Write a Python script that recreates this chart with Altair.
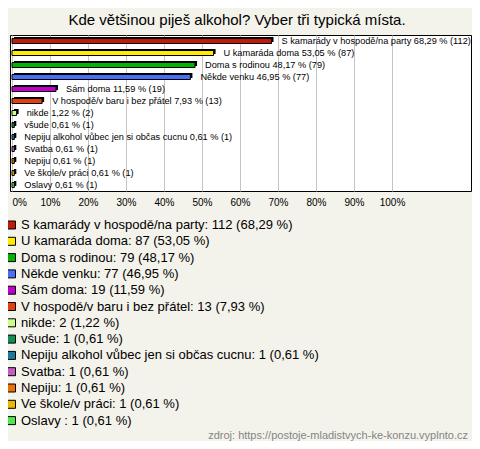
import altair as alt
import pandas as pd

title_text = "Kde většinou piješ alkohol? Vyber tři typická místa."
source_text = "zdroj: https://postoje-mladistvych-ke-konzu.vyplnto.cz"

categories = [
    "S kamarády v hospodě/na party",
    "U kamaráda doma",
    "Doma s rodinou",
    "Někde venku",
    "Sám doma",
    "V hospodě/v baru i bez přátel",
    "nikde",
    "všude",
    "Nepiju alkohol vůbec jen si občas cucnu",
    "Svatba",
    "Nepiju",
    "Ve škole/v práci",
    "Oslavy ",
]
counts = [112, 87, 79, 77, 19, 13, 2, 1, 1, 1, 1, 1, 1]
percents = [68.29, 53.05, 48.17, 46.95, 11.59, 7.93, 1.22, 0.61, 0.61, 0.61, 0.61, 0.61, 0.61]
colors = [
    "#c01a0c", "#ffec00", "#00b400", "#4a6ef5", "#c000cc", "#e2400c", "#ccff88",
    "#109050", "#1f7a99", "#c55cc5", "#ec7004", "#eab800", "#4ce84c",
]
tick_values = [0, 10, 20, 30, 40, 50, 60, 70, 80, 90, 100]


def fmt(p):
    return f"{p:.2f}".replace(".", ",")


df = pd.DataFrame({
    "cat": categories,
    "pct": percents,
    "n": counts,
    "bar_label": [f"{c} {fmt(p)} % ({n})" for c, p, n in zip(categories, percents, counts)],
    "legend_label": [f"{c}: {n} ({fmt(p)} %)" for c, p, n in zip(categories, percents, counts)],
})

FONT = "Liberation Sans"

x_enc = alt.X(
    "pct:Q",
    scale=alt.Scale(domain=[-0.526, 120.79], nice=False, zero=False),
    axis=alt.Axis(
        values=tick_values,
        labelExpr="datum.value + '%'",
        grid=True,
        gridColor="#c4c4c4",
        gridWidth=1,
        domain=False,
        ticks=False,
        labelFontSize=10,
        labelFont=FONT,
        labelColor="black",
        labelPadding=6,
        labelAlign={"condition": {"test": "datum.value == 0", "value": "left"}, "value": "center"},
        title=None,
    ),
)
y_enc = alt.Y(
    "cat:N",
    sort=categories,
    axis=None,
    scale=alt.Scale(paddingInner=0, paddingOuter=0),
)

base = alt.Chart(df)

back = base.mark_bar(size=5, color="black", xOffset=2, x2Offset=2, yOffset=-1.5, y2Offset=-1.5).encode(
    x=x_enc, y=y_enc
)

front = base.mark_bar(size=5, stroke="black", strokeWidth=1).encode(
    x=x_enc,
    y=y_enc,
    color=alt.Color(
        "legend_label:N",
        scale=alt.Scale(domain=list(df["legend_label"]), range=colors),
        legend=alt.Legend(
            orient="none",
            legendX=-5,
            legendY=183.5,
            direction="vertical",
            title=None,
            symbolType="square",
            symbolSize=64,
            symbolStrokeColor="black",
            symbolStrokeWidth=1,
            symbolOpacity=1,
            labelFontSize=13,
            labelFont=FONT,
            labelColor="black",
            labelLimit=600,
            labelOffset=3,
            rowPadding=2.3,
            padding=0,
        ),
    ),
)

labels = base.mark_text(align="left", baseline="middle", dx=10, fontSize=9.2, font=FONT, color="black").encode(
    x=x_enc, y=y_enc, text="bar_label:N"
)

title_layer = alt.Chart(pd.DataFrame({"t": [title_text]})).mark_text(
    fontSize=15, font=FONT, align="center", baseline="middle", color="black"
).encode(text="t:N", x=alt.value(227), y=alt.value(-15))

footer_layer = alt.Chart(pd.DataFrame({"t": [source_text]})).mark_text(
    fontSize=11, font=FONT, align="right", baseline="middle", color="#858585"
).encode(text="t:N", x=alt.value(458), y=alt.value(401))

chart = alt.layer(back, front, labels, title_layer, footer_layer).properties(
    width=461,
    height=156,
    autosize=alt.AutoSizeParams(type="none"),
    padding={"left": 2, "top": 27, "right": 1, "bottom": 250},
    background="#f3f2eb",
).configure_view(stroke="black", fill="white", strokeWidth=1)

chart.save("out.html", embed_options={"renderer": "svg", "actions": False})
